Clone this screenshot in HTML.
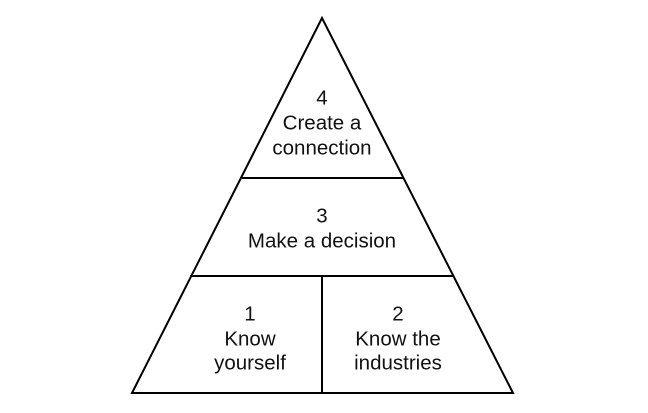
<!DOCTYPE html>
<html><head><style>html,body{margin:0;padding:0;background:#fff}svg{display:block}</style></head>
<body>
<svg width="648" height="413" viewBox="0 0 648 413" xmlns="http://www.w3.org/2000/svg">
<g stroke="#000" stroke-width="2" fill="none">
<polygon points="322,18 132,393 513,393"/>
<line x1="242" y1="178" x2="404" y2="178"/>
<line x1="190" y1="276" x2="453" y2="276"/>
<line x1="322" y1="276" x2="322" y2="393"/>
</g>
<g font-family="Liberation Sans, sans-serif" font-size="20.5" text-anchor="middle" dominant-baseline="central" fill="#111">
<text x="322" y="98">4</text>
<text x="322" y="123">Create a</text>
<text x="322" y="148">connection</text>
<text x="322" y="216">3</text>
<text x="322" y="241">Make a decision</text>
<text x="250" y="314">1</text>
<text x="250" y="339">Know</text>
<text x="250" y="363">yourself</text>
<text x="398" y="314">2</text>
<text x="398" y="339">Know the</text>
<text x="398" y="363">industries</text>
</g>
</svg>
</body></html>
